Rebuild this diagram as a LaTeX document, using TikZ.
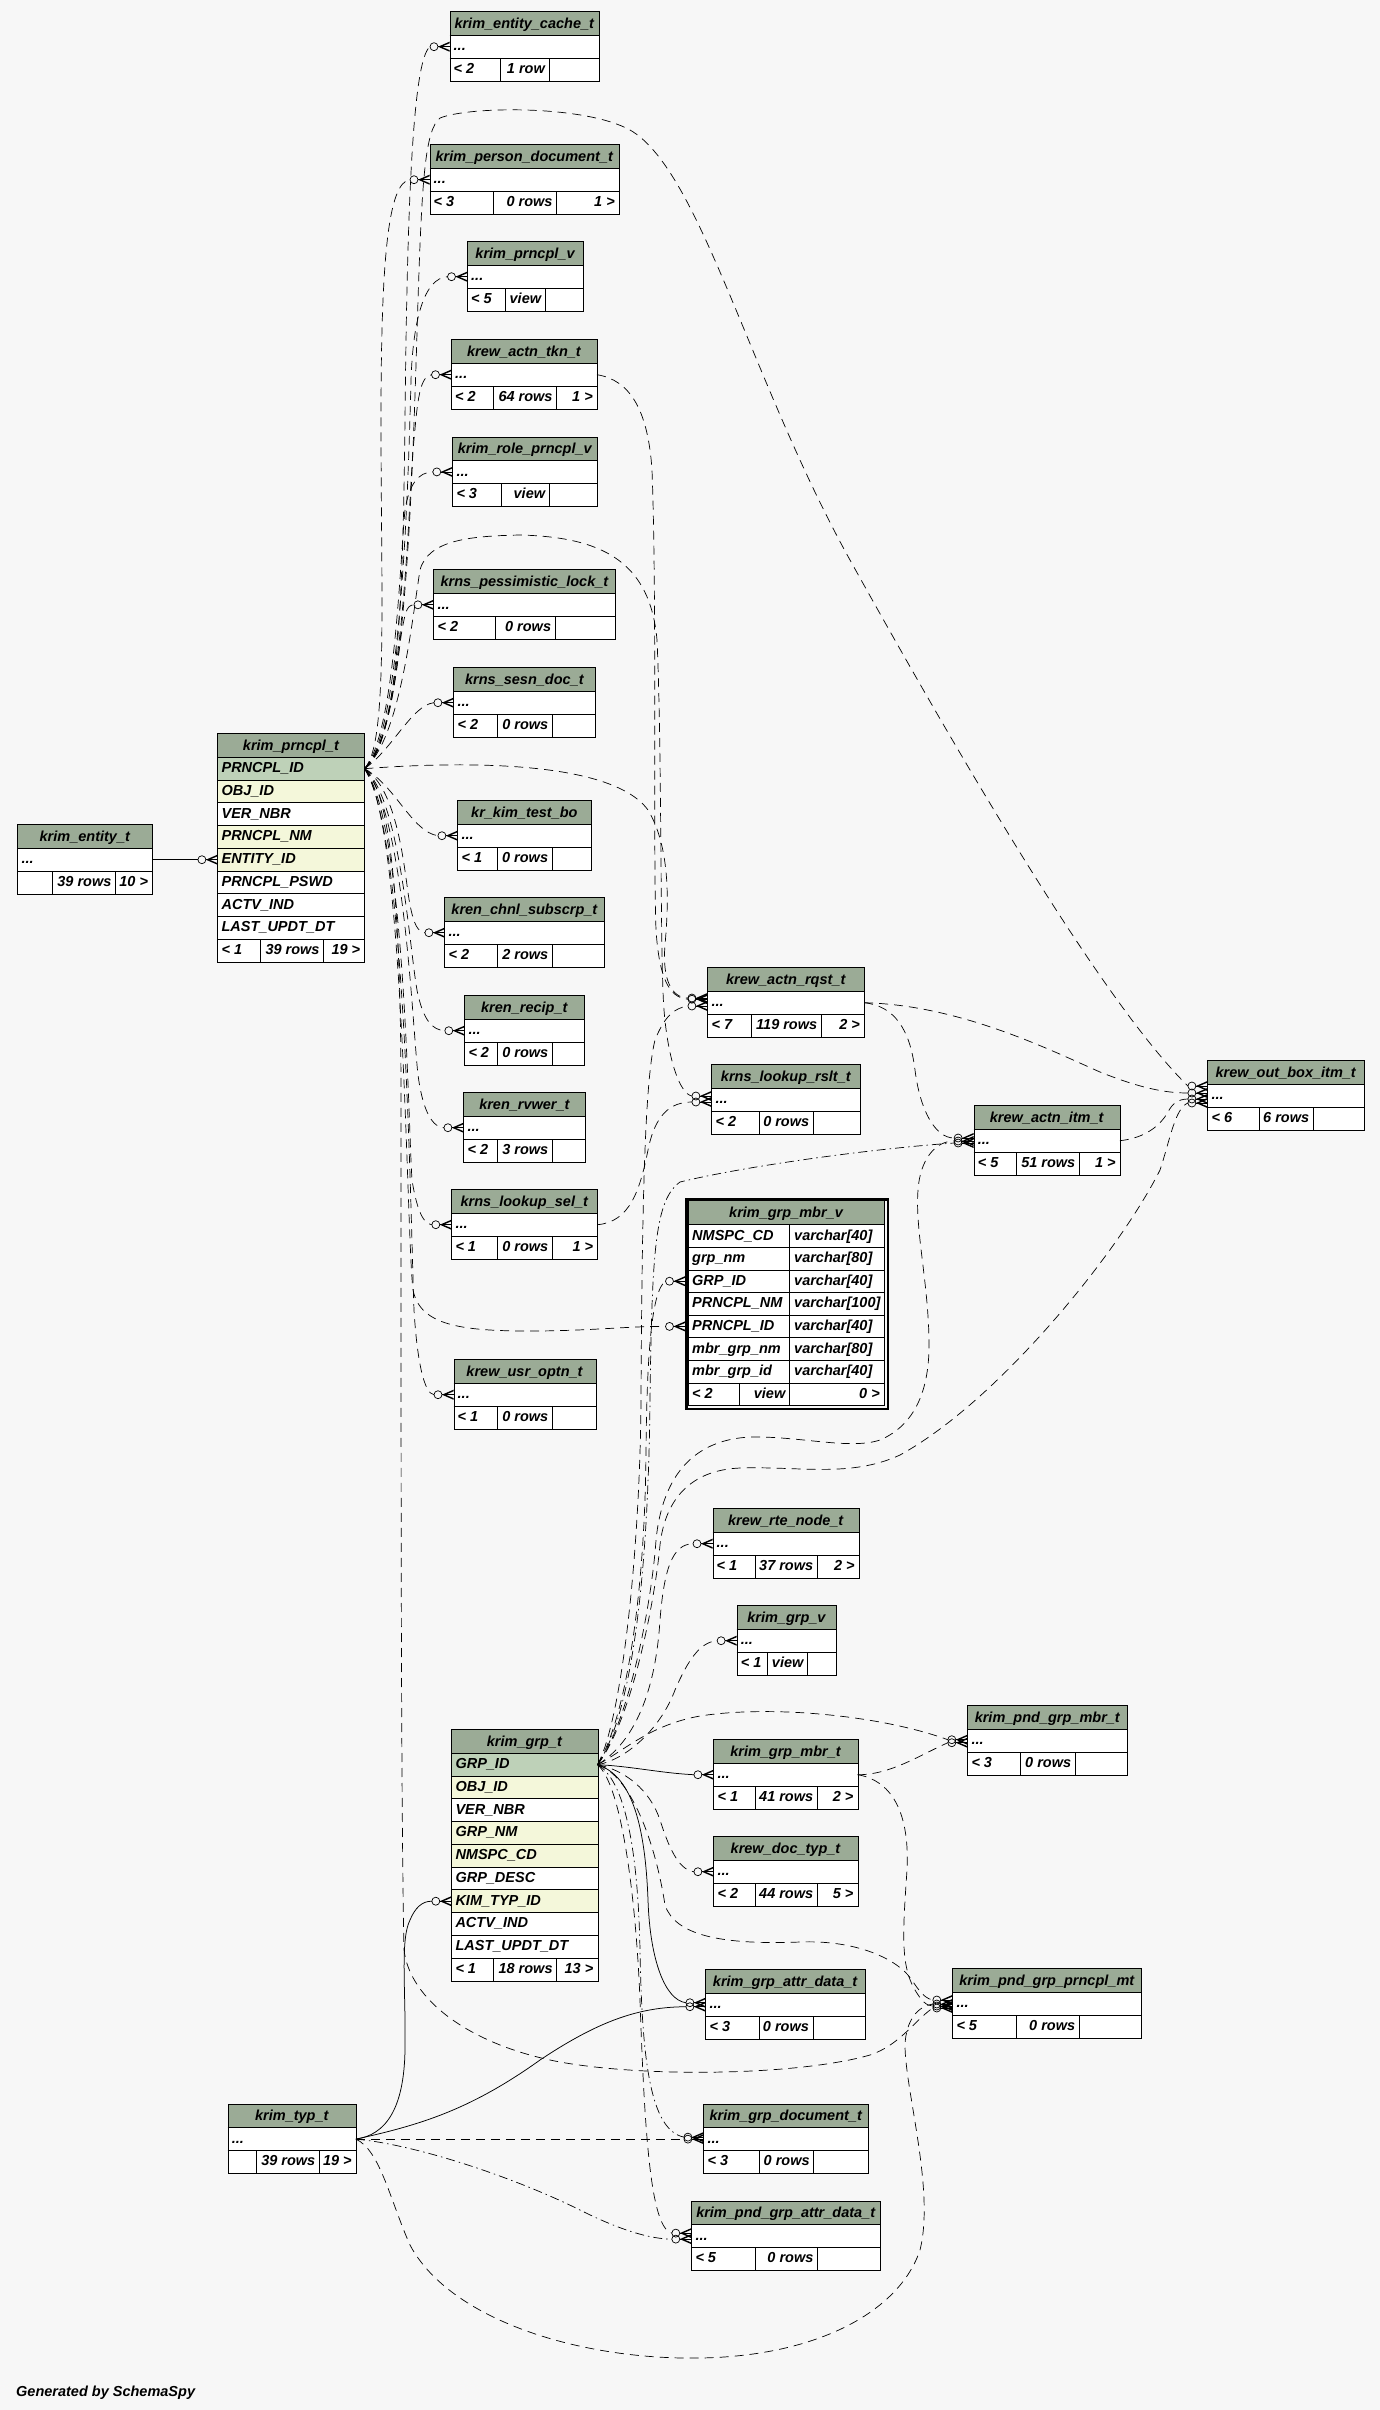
\documentclass[tikz,border=0pt]{standalone}
\usepackage{fontspec}
\setmainfont{Liberation Sans}
\usetikzlibrary{calc}
\definecolor{bgc}{HTML}{F7F7F7}
\definecolor{hdr}{HTML}{9BAB96}
\definecolor{pkc}{HTML}{BED1B8}
\definecolor{idx}{HTML}{F4F7DA}
\newcommand\tfont{\fontsize{14.5}{17}\selectfont\bfseries\itshape}
\tikzset{
  tt/.style={font=\tfont, inner sep=0pt, text=black},
  frame/.style={draw=black, line width=0.9pt, inner sep=0pt, fill=none},
  tl/.style={draw=black, line width=0.8pt},
  mk/.style={draw=black, line width=0.7pt},
  dsh/.style={draw=black, line width=0.7pt, dash pattern=on 9pt off 6pt},
  ddt/.style={draw=black, line width=0.7pt, dash pattern=on 9pt off 4pt on 1.5pt off 4pt},
  sol/.style={draw=black, line width=0.75pt},
}
% small table: name x y w title
\newcommand\stbl[5]{%
  \fill[white] (#2,#3) rectangle ++(#4,69.5);
  \fill[hdr] (#2,#3) rectangle ++(#4,24);
  \draw[tl] (#2,#3+24) -- ++(#4,0) (#2,#3+46.8) -- ++(#4,0);
  \node[frame, minimum width=#4, minimum height=69.5, anchor=north west] (#1) at (#2,#3) {};
  \node[tt, anchor=base] (#1-t) at (#2+#4/2,#3+17) {#5};
  \node[tt, anchor=base west] (#1-r) at (#2+4,#3+39.6) {...};
  \coordinate (#1-in) at (#2,#3+35.4);
  \coordinate (#1-out) at (#2+#4,#3+35.4);
}
% footer: name x yF w d1 d2 left mid right
\newcommand\foot[9]{%
  \draw[tl] (#5,#3) -- (#5,#3+22.6) (#6,#3) -- (#6,#3+22.6);
  \node[tt, anchor=base west] (#1-fl) at (#2+4,#3+15.3) {#7};
  \node[tt, anchor=base east] (#1-fm) at (#6-4,#3+15.3) {#8};
  \node[tt, anchor=base east] (#1-fr) at (#2+#4-4,#3+15.3) {#9};
}
% big-table row: name x ytop w fill text
\newcommand\brow[6]{%
  \fill[#5] (#2,#3) rectangle ++(#4,22.75);
  \draw[tl] (#2,#3) -- ++(#4,0);
  \node[tt, anchor=base west] (#1) at (#2+4,#3+15.4) {#6};
}
% view row: name ytop col1 col2
\newcommand\vrow[4]{%
  \draw[tl] (688,#2) -- ++(196,0);
  \node[tt, anchor=base west] (#1-a) at (692,#2+15.3) {#3};
  \node[tt, anchor=base west] (#1-b) at (794,#2+15.3) {#4};
}
% crow's foot with open circle: endname incoord dy
\newcommand\tip[3]{%
  \coordinate (#1) at ($(#2)+(-19.5,#3)$);
  \begin{scope}[shift={($(#2)+(0,#3)$)}]
    \draw[mk] (-15.5,0) circle [radius=4pt];
    \fill (-11.5,0) -- (0,-5) -- (0,-3.4) -- (-8,0) -- (0,3.4) -- (0,5) -- cycle;
    \draw[mk] (-11.5,0) -- (0,0);
  \end{scope}}

\begin{document}
\begin{tikzpicture}[x=1pt,y=-1pt]
\fill[bgc] (0,0) rectangle (1380,2410);
\useasboundingbox (0,0) rectangle (1380,2410);

% ---------- small tables ----------
\stbl{ecache}{449.5}{11.3}{149.5}{krim\_entity\_cache\_t}
\foot{ecache}{449.5}{11.3+46.8}{149.5}{500}{549}{< 2}{1 row}{}
\stbl{pdoc}{429.5}{144.3}{189.5}{krim\_person\_document\_t}
\foot{pdoc}{429.5}{144.3+46.8}{189.5}{493.3}{556.7}{< 3}{0 rows}{1 >}
\stbl{pv}{467}{241.3}{116}{krim\_prncpl\_v}
\foot{pv}{467}{241.3+46.8}{116}{505.3}{545.3}{< 5}{view}{}
\stbl{tkn}{451}{339.3}{146}{krew\_actn\_tkn\_t}
\foot{tkn}{451}{339.3+46.8}{146}{493.3}{556.7}{< 2}{64 rows}{1 >}
\stbl{rpv}{452.3}{436.5}{145}{krim\_role\_prncpl\_v}
\foot{rpv}{452.3}{436.5+46.8}{145}{501.7}{549.3}{< 3}{view}{}
\stbl{plock}{433.4}{569.4}{182}{krns\_pessimistic\_lock\_t}
\foot{plock}{433.4}{569.4+46.8}{182}{495.3}{555.3}{< 2}{0 rows}{}
\stbl{sdoc}{453.4}{667.3}{142}{krns\_sesn\_doc\_t}
\foot{sdoc}{453.4}{667.3+46.8}{142}{497.3}{552.5}{< 2}{0 rows}{}
\stbl{ktb}{457.4}{800.3}{134}{kr\_kim\_test\_bo}
\foot{ktb}{457.4}{800.3+46.8}{134}{497.3}{552.3}{< 1}{0 rows}{}
\stbl{chnl}{444.4}{897.3}{160}{kren\_chnl\_subscrp\_t}
\foot{chnl}{444.4}{897.3+46.8}{160}{497.3}{552.5}{< 2}{2 rows}{}
\stbl{recip}{464.3}{995.3}{120}{kren\_recip\_t}
\foot{recip}{464.3}{995.3+46.8}{120}{497.3}{552.5}{< 2}{0 rows}{}
\stbl{rvwer}{463.4}{1092.3}{122}{kren\_rvwer\_t}
\foot{rvwer}{463.4}{1092.3+46.8}{122}{497.3}{552.5}{< 2}{3 rows}{}
\stbl{lsel}{451.3}{1189.3}{146}{krns\_lookup\_sel\_t}
\foot{lsel}{451.3}{1189.3+46.8}{146}{497.3}{552.5}{< 1}{0 rows}{1 >}
\stbl{uopt}{453.5}{1359.3}{142}{krew\_usr\_optn\_t}
\foot{uopt}{453.5}{1359.3+46.8}{142}{497.3}{552.5}{< 1}{0 rows}{}
\stbl{rqst}{707.4}{967.3}{156.7}{krew\_actn\_rqst\_t}
\foot{rqst}{707.4}{967.3+46.8}{156.7}{751.7}{821.4}{< 7}{119 rows}{2 >}
\stbl{lrslt}{711.4}{1064.3}{148.8}{krns\_lookup\_rslt\_t}
\foot{lrslt}{711.4}{1064.3+46.8}{148.8}{759.7}{813.4}{< 2}{0 rows}{}
\stbl{itm}{973.6}{1105.3}{146.2}{krew\_actn\_itm\_t}
\foot{itm}{973.6}{1105.3+46.8}{146.2}{1016.4}{1079.5}{< 5}{51 rows}{1 >}
\stbl{obox}{1207.4}{1060.3}{156.6}{krew\_out\_box\_itm\_t}
\foot{obox}{1207.4}{1060.3+46.8}{156.6}{1259.6}{1313.3}{< 6}{6 rows}{}
\stbl{rte}{712.5}{1508.3}{146.4}{krew\_rte\_node\_t}
\foot{rte}{712.5}{1508.3+46.8}{146.4}{754.9}{817.4}{< 1}{37 rows}{2 >}
\stbl{gv}{736.6}{1605.3}{99.6}{krim\_grp\_v}
\foot{gv}{736.6}{1605.3+46.8}{99.6}{767.4}{807.6}{< 1}{view}{}
\stbl{gmbr}{713.4}{1739.3}{144.2}{krim\_grp\_mbr\_t}
\foot{gmbr}{713.4}{1739.3+46.8}{144.2}{754.9}{817.4}{< 1}{41 rows}{2 >}
\stbl{dtyp}{713.4}{1836.3}{144.2}{krew\_doc\_typ\_t}
\foot{dtyp}{713.4}{1836.3+46.8}{144.2}{754.9}{817.4}{< 2}{44 rows}{5 >}
\stbl{pgmbr}{967.3}{1705.3}{160}{krim\_pnd\_grp\_mbr\_t}
\foot{pgmbr}{967.3}{1705.3+46.8}{160}{1020.3}{1075.3}{< 3}{0 rows}{}
\stbl{pgp}{952.3}{1968.3}{189}{krim\_pnd\_grp\_prncpl\_mt}
\foot{pgp}{952.3}{1968.3+46.8}{189}{1016.3}{1079.3}{< 5}{0 rows}{}
\stbl{gattr}{705.4}{1969.3}{159.4}{krim\_grp\_attr\_data\_t}
\foot{gattr}{705.4}{1969.3+46.8}{159.4}{759.6}{813.1}{< 3}{0 rows}{}
\stbl{gdoc}{703.4}{2103.7}{164.6}{krim\_grp\_document\_t}
\foot{gdoc}{703.4}{2103.7+46.8}{164.6}{759.6}{813.8}{< 3}{0 rows}{}
\stbl{pgattr}{691.3}{2200.7}{188.8}{krim\_pnd\_grp\_attr\_data\_t}
\foot{pgattr}{691.3}{2200.7+46.8}{188.8}{755.7}{817.6}{< 5}{0 rows}{}
\stbl{ent}{17.4}{824.3}{134.8}{krim\_entity\_t}
\foot{ent}{17.4}{824.3+46.8}{134.8}{52.7}{115.6}{}{39 rows}{10 >}
\stbl{typ}{227.7}{2103.7}{128.2}{krim\_typ\_t}
\foot{typ}{227.7}{2103.7+46.8}{128.2}{256.4}{319.5}{}{39 rows}{19 >}

% ---------- krim_prncpl_t ----------
\fill[white] (217.4,733.3) rectangle ++(147,228.5);
\fill[hdr] (217.4,733.3) rectangle ++(147,24);
\node[tt, anchor=base] (prncpl-t) at (290.9,750.3) {krim\_prncpl\_t};
\brow{prncpl-r1}{217.4}{757.3}{147}{pkc}{PRNCPL\_ID}
\brow{prncpl-r2}{217.4}{780.05}{147}{idx}{OBJ\_ID}
\brow{prncpl-r3}{217.4}{802.8}{147}{white}{VER\_NBR}
\brow{prncpl-r4}{217.4}{825.55}{147}{idx}{PRNCPL\_NM}
\brow{prncpl-r5}{217.4}{848.3}{147}{idx}{ENTITY\_ID}
\brow{prncpl-r6}{217.4}{871.05}{147}{white}{PRNCPL\_PSWD}
\brow{prncpl-r7}{217.4}{893.8}{147}{white}{ACTV\_IND}
\brow{prncpl-r8}{217.4}{916.55}{147}{white}{LAST\_UPDT\_DT}
\draw[tl] (217.4,939.3) -- ++(147,0);
\foot{prncpl}{217.4}{939.3}{147}{260.3}{323.7}{< 1}{39 rows}{19 >}
\node[frame, minimum width=147, minimum height=228.5, anchor=north west] (prncpl) at (217.4,733.3) {};
\coordinate (prncpl-pk) at (364.4,768.7);
\coordinate (prncpl-ent) at (217.4,859.7);

% ---------- krim_grp_t ----------
\fill[white] (451.3,1729.3) rectangle ++(146.2,251.25);
\fill[hdr] (451.3,1729.3) rectangle ++(146.2,24);
\node[tt, anchor=base] (grp-t) at (524.4,1746.3) {krim\_grp\_t};
\brow{grp-r1}{451.3}{1753.3}{146.2}{pkc}{GRP\_ID}
\brow{grp-r2}{451.3}{1776.05}{146.2}{idx}{OBJ\_ID}
\brow{grp-r3}{451.3}{1798.8}{146.2}{white}{VER\_NBR}
\brow{grp-r4}{451.3}{1821.55}{146.2}{idx}{GRP\_NM}
\brow{grp-r5}{451.3}{1844.3}{146.2}{idx}{NMSPC\_CD}
\brow{grp-r6}{451.3}{1867.05}{146.2}{white}{GRP\_DESC}
\brow{grp-r7}{451.3}{1889.8}{146.2}{idx}{KIM\_TYP\_ID}
\brow{grp-r8}{451.3}{1912.55}{146.2}{white}{ACTV\_IND}
\brow{grp-r9}{451.3}{1935.3}{146.2}{white}{LAST\_UPDT\_DT}
\draw[tl] (451.3,1958.05) -- ++(146.2,0);
\foot{grp}{451.3}{1958.05}{146.2}{493.6}{556.8}{< 1}{18 rows}{13 >}
\node[frame, minimum width=146.2, minimum height=251.25, anchor=north west] (grp) at (451.3,1729.3) {};
\coordinate (grp-pk) at (597.5,1764.7);
\coordinate (grp-kt) at (451.3,1901.2);

% ---------- krim_grp_mbr_v ----------
\fill[white] (688,1200.7) rectangle (884,1405.4);
\fill[hdr] (688,1200.7) rectangle ++(196,24);
\node[tt, anchor=base] (gmv-t) at (786,1217.7) {krim\_grp\_mbr\_v};
\vrow{gmv-r1}{1224.7}{NMSPC\_CD}{varchar[40]}
\vrow{gmv-r2}{1247.3}{grp\_nm}{varchar[80]}
\vrow{gmv-r3}{1269.9}{GRP\_ID}{varchar[40]}
\vrow{gmv-r4}{1292.5}{PRNCPL\_NM}{varchar[100]}
\vrow{gmv-r5}{1315.1}{PRNCPL\_ID}{varchar[40]}
\vrow{gmv-r6}{1337.7}{mbr\_grp\_nm}{varchar[80]}
\vrow{gmv-r7}{1360.3}{mbr\_grp\_id}{varchar[40]}
\draw[tl] (688,1382.9) -- ++(196,0) (789.5,1224.7) -- (789.5,1382.9);
\foot{gmv}{688}{1382.9}{196}{739.3}{789.5}{< 2}{view}{0 >}
\draw[tl] (688,1200.7) rectangle (884,1405.4);
\node[draw=black, line width=2.6pt, inner sep=0pt, minimum width=201.3, minimum height=209.2, anchor=north west] (gmv) at (685.3,1198.4) {};
\coordinate (gmv-g) at (685,1281.2);
\coordinate (gmv-p) at (685,1326.4);

% ---------- markers ----------
\tip{e-ecache}{ecache-in}{0}
\tip{e-pdoc}{pdoc-in}{0}
\tip{e-pv}{pv-in}{0}
\tip{e-tkn}{tkn-in}{0}
\tip{e-rpv}{rpv-in}{0}
\tip{e-plock}{plock-in}{0}
\tip{e-sdoc}{sdoc-in}{0}
\tip{e-ktb}{ktb-in}{0}
\tip{e-chnl}{chnl-in}{0}
\tip{e-recip}{recip-in}{0}
\tip{e-rvwer}{rvwer-in}{0}
\tip{e-lsel}{lsel-in}{0}
\tip{e-uopt}{uopt-in}{0}
\tip{e-gmvp}{gmv-p}{0}
\tip{e-gmvg}{gmv-g}{0}
\tip{e-pent}{prncpl-ent}{0}
\tip{e-gkt}{grp-kt}{0}
\tip{e-rqst1}{rqst-in}{-4.7}
\tip{e-rqst2}{rqst-in}{-3.5}
\tip{e-rqst3}{rqst-in}{3.3}
\tip{e-lrslt1}{lrslt-in}{-3.7}
\tip{e-lrslt2}{lrslt-in}{2.3}
\tip{e-itm1}{itm-in}{-2.7}
\tip{e-itm2}{itm-in}{2.3}
\tip{e-itm3}{itm-in}{0.3}
\tip{e-obox1}{obox-in}{-9.7}
\tip{e-obox2}{obox-in}{-2.7}
\tip{e-obox3}{obox-in}{3.3}
\tip{e-obox4}{obox-in}{7.3}
\tip{e-pgmbr1}{pgmbr-in}{-1}
\tip{e-pgmbr2}{pgmbr-in}{2}
\tip{e-pgp1}{pgp-in}{-3.7}
\tip{e-pgp2}{pgp-in}{0.3}
\tip{e-pgp3}{pgp-in}{4.3}
\tip{e-pgp4}{pgp-in}{2.3}
\tip{e-gattr1}{gattr-in}{-2}
\tip{e-gattr2}{gattr-in}{2}
\tip{e-gdoc1}{gdoc-in}{-2}
\tip{e-gdoc2}{gdoc-in}{0}
\tip{e-pgattr1}{pgattr-in}{-3}
\tip{e-pgattr2}{pgattr-in}{3}
\tip{e-gmbr}{gmbr-in}{0}
\tip{e-dtyp}{dtyp-in}{0}
\tip{e-rte}{rte-in}{0}
\tip{e-gv}{gv-in}{0}

% ---------- edges from krim_prncpl_t ----------
\draw[dsh] (prncpl-pk) .. controls (398,745) and (403,600) .. (405,420) .. controls (407,220) and (412,60) .. (e-ecache);
\draw[dsh] (prncpl-pk) .. controls (388,745) and (381,600) .. (381,420) .. controls (381,260) and (388,182) .. (e-pdoc);
\draw[dsh] (prncpl-pk) .. controls (400,740) and (408,500) .. (411,380) .. controls (413,320) and (424,278) .. (e-pv);
\draw[dsh] (prncpl-pk) .. controls (402,740) and (408,520) .. (413,450) .. controls (417,410) and (418,376) .. (e-tkn);
\draw[dsh] (prncpl-pk) .. controls (395,735) and (400,560) .. (405,510) .. controls (409,485) and (418,472) .. (e-rpv);
\draw[dsh] (prncpl-pk) .. controls (392,740) and (397,660) .. (402,630) .. controls (405,615) and (406,605) .. (e-plock);
\draw[dsh] (prncpl-pk) .. controls (392,750) and (412,705) .. (e-sdoc);
\draw[dsh] (prncpl-pk) .. controls (395,785) and (412,832) .. (e-ktb);
\draw[dsh] (prncpl-pk) .. controls (400,790) and (405,880) .. (410,905) .. controls (414,925) and (418,932) .. (e-chnl);
\draw[dsh] (prncpl-pk) .. controls (402,800) and (410,960) .. (418,995) .. controls (424,1020) and (432,1030) .. (e-recip);
\draw[dsh] (prncpl-pk) .. controls (404,810) and (412,1020) .. (418,1075) .. controls (422,1105) and (430,1127) .. (e-rvwer);
\draw[dsh] (prncpl-pk) .. controls (405,820) and (408,1120) .. (412,1180) .. controls (416,1205) and (422,1224) .. (e-lsel);
\draw[dsh] (prncpl-pk) .. controls (406,830) and (410,1200) .. (414,1310) .. controls (417,1360) and (424,1394) .. (e-uopt);
\draw[dsh] (prncpl-pk) .. controls (405,820) and (406,1230) .. (413,1290) .. controls (420,1325) and (460,1331) .. (530,1331) .. controls (590,1331) and (630,1326) .. (e-gmvp);
\draw[dsh] (prncpl-pk) .. controls (450,762) and (610,758) .. (648,810) .. controls (672,850) and (668,910) .. (665,945) .. controls (662,980) and (672,998) .. (e-rqst1);
\draw[dsh] (prncpl-pk) .. controls (400,740) and (412,620) .. (420,570) .. controls (428,540) and (470,536) .. (520,535) .. controls (600,537) and (650,560) .. (657,640) .. controls (662,750) and (660,960) .. (664,1010) .. controls (668,1060) and (680,1094) .. (e-lrslt1);
\draw[dsh] (prncpl-pk) .. controls (405,740) and (412,500) .. (418,300) .. controls (422,180) and (425,130) .. (440,118) .. controls (470,106) and (585,105) .. (630,130) .. controls (700,170) and (750,380) .. (850,560) .. controls (950,740) and (1100,1000) .. (e-obox1);
\draw[dsh] (prncpl-pk) .. controls (390,790) and (401,900) .. (401,1100) .. controls (401,1500) and (401,1800) .. (404,1950) .. controls (410,2000) and (470,2045) .. (560,2062) .. controls (650,2078) and (800,2075) .. (870,2055) .. controls (900,2045) and (915,2020) .. (e-pgp3);

% ---------- other edges ----------
\draw[sol] (ent-out) -- (e-pent);
\draw[dsh] (tkn-out) .. controls (630,380) and (648,410) .. (652,470) .. controls (657,600) and (653,850) .. (656,930) .. controls (659,975) and (668,998) .. (e-rqst2);
\draw[dsh] (rqst-out) .. controls (895,1006) and (910,1030) .. (915,1070) .. controls (920,1110) and (935,1138) .. (e-itm1);
\draw[dsh] (rqst-out) .. controls (960,1005) and (1050,1050) .. (1100,1072) .. controls (1140,1088) and (1165,1093) .. (e-obox2);
\draw[dsh] (itm-out) .. controls (1145,1138) and (1160,1126) .. (1168,1112) .. controls (1172,1104) and (1178,1099) .. (e-obox3);
\draw[dsh] (lsel-out) .. controls (630,1222) and (640,1190) .. (648,1150) .. controls (655,1115) and (670,1102) .. (e-lrslt2);

% ---------- edges from krim_grp_t ----------
\draw[dsh] (grp-pk) .. controls (630,1745) and (655,1700) .. (660,1620) .. controls (664,1570) and (672,1544) .. (e-rte);
\draw[dsh] (grp-pk) .. controls (625,1760) and (660,1730) .. (675,1690) .. controls (688,1660) and (700,1642) .. (e-gv);
\draw[sol] (grp-pk) .. controls (630,1766) and (660,1773) .. (e-gmbr);
\draw[dsh] (grp-pk) .. controls (625,1770) and (650,1790) .. (660,1820) .. controls (668,1845) and (678,1870) .. (e-dtyp);
\draw[dsh] (grp-pk) .. controls (625,1750) and (650,1725) .. (700,1716) .. controls (770,1705) and (880,1715) .. (e-pgmbr1);
\draw[dsh] (grp-pk) .. controls (630,1775) and (655,1840) .. (665,1905) .. controls (675,1935) and (720,1945) .. (800,1942) .. controls (850,1940) and (890,1955) .. (908,1975) .. controls (916,1985) and (922,1998) .. (e-pgp1);
\draw[sol] (grp-pk) .. controls (630,1775) and (645,1820) .. (648,1900) .. controls (650,1960) and (665,2000) .. (e-gattr1);
\draw[ddt] (grp-pk) .. controls (625,1780) and (638,1850) .. (640,1950) .. controls (642,2060) and (650,2130) .. (e-gdoc1);
\draw[dsh] (grp-pk) .. controls (622,1785) and (636,1900) .. (640,2000) .. controls (645,2150) and (652,2228) .. (e-pgattr1);
\draw[dsh] (grp-pk) .. controls (625,1720) and (645,1600) .. (646,1450) .. controls (647,1350) and (652,1290) .. (e-gmvg);
\draw[dsh] (grp-pk) .. controls (622,1720) and (640,1550) .. (641,1400) .. controls (642,1200) and (645,1080) .. (655,1040) .. controls (665,1015) and (675,1008) .. (e-rqst3);
\draw[ddt] (grp-pk) .. controls (628,1720) and (648,1600) .. (650,1400) .. controls (652,1250) and (655,1200) .. (680,1182) .. controls (750,1165) and (880,1148) .. (e-itm2);
\draw[dsh] (grp-pk) .. controls (630,1720) and (652,1600) .. (656,1540) .. controls (662,1480) and (690,1440) .. (750,1437) .. controls (800,1436) and (850,1450) .. (880,1440) .. controls (915,1425) and (930,1390) .. (929,1340) .. controls (928,1280) and (915,1230) .. (918,1190) .. controls (920,1160) and (935,1141) .. (e-itm3);
\draw[dsh] (grp-pk) .. controls (632,1720) and (655,1600) .. (660,1545) .. controls (665,1500) and (690,1470) .. (740,1468) .. controls (800,1466) and (850,1478) .. (900,1455) .. controls (1000,1400) and (1120,1250) .. (1160,1170) .. controls (1170,1140) and (1175,1108) .. (e-obox4);
\draw[dsh] (gmbr-out) .. controls (890,1775) and (920,1755) .. (e-pgmbr2);
\draw[dsh] (gmbr-out) .. controls (890,1780) and (910,1810) .. (907,1870) .. controls (903,1930) and (900,1965) .. (915,1990) .. controls (921,2000) and (926,2006) .. (e-pgp4);

% ---------- edges from krim_typ_t ----------
\draw[sol] (typ-out) .. controls (385,2135) and (404,2110) .. (405,2050) .. controls (406,1990) and (400,1940) .. (410,1920) .. controls (415,1908) and (422,1901) .. (e-gkt);
\draw[sol] (typ-out) .. controls (420,2125) and (470,2110) .. (540,2060) .. controls (600,2020) and (640,2007) .. (e-gattr2);
\draw[dsh] (typ-out) -- (e-gdoc2);
\draw[ddt] (typ-out) .. controls (420,2145) and (520,2180) .. (580,2210) .. controls (620,2230) and (650,2239) .. (e-pgattr2);
\draw[dsh] (typ-out) .. controls (380,2150) and (390,2200) .. (410,2245) .. controls (450,2320) and (580,2360) .. (700,2358) .. controls (820,2356) and (900,2310) .. (920,2250) .. controls (935,2190) and (905,2090) .. (905,2045) .. controls (906,2020) and (918,2006) .. (e-pgp2);

\node[tt, anchor=base west] (gen) at (16,2396) {Generated by SchemaSpy};
\end{tikzpicture}
\end{document}
